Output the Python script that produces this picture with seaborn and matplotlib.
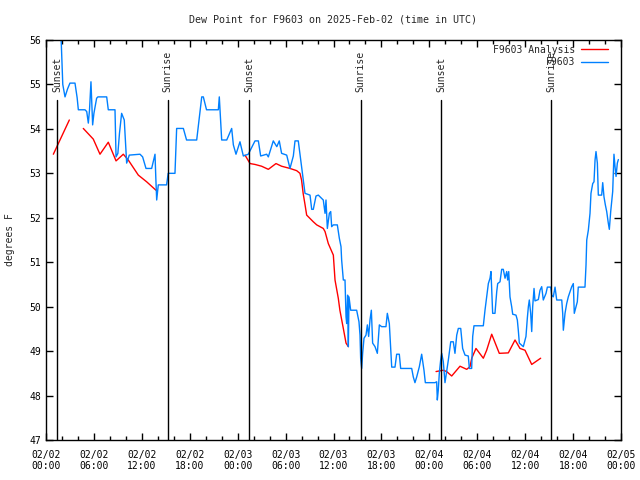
import matplotlib
matplotlib.use("Agg")
import matplotlib.pyplot as plt
import matplotlib.dates as mdates
import numpy as np
import pandas as pd
import seaborn as sns

# hours since 2025-02-02 00:00 UTC, dew point in F
obs_hours = [0.0, 1.9, 2.1, 2.38, 2.7, 3.0, 3.63, 3.9, 4.05, 4.88,
             5.1, 5.3, 5.45, 5.63, 5.84, 6.0, 6.34, 6.5, 7.6, 7.8,
             8.64, 8.77, 9.0, 9.2, 9.47, 9.8, 10.1, 10.43, 11.77, 12.1,
             12.52, 13.23, 13.65, 13.75, 13.86, 14.06, 15.1, 15.3, 16.15, 16.36,
             17.2, 17.6, 18.87, 19.5, 19.7, 20.1, 21.58, 21.7, 22.0, 22.63,
             23.25, 23.46, 23.79, 24.29, 24.71, 25.33, 26.17, 26.59, 26.88, 27.63,
             27.84, 28.46, 28.9, 29.21, 29.5, 30.14, 30.55, 30.97, 31.18, 31.59,
             32.0, 32.22, 32.43, 33.06, 33.27, 33.47, 33.81, 34.1, 34.72, 34.94,
             35.06, 35.23, 35.48, 35.65, 35.77, 35.98, 36.48, 36.73, 36.94, 37.02,
             37.23, 37.44, 37.57, 37.65, 37.77, 37.86, 37.94, 38.15, 38.9, 39.19,
             39.32, 39.4, 39.53, 39.65, 39.82, 40.07, 40.24, 40.4, 40.57, 40.74,
             40.9, 41.2, 41.49, 41.74, 42.03, 42.57, 42.74, 42.99, 43.2, 43.29,
             43.7, 43.91, 44.24, 44.41, 45.79, 45.99, 46.2, 46.42, 46.75, 47.04,
             47.33, 47.5, 48.71, 48.92, 49.0, 49.12, 49.25, 49.42, 49.55, 49.75,
             49.96, 50.17, 50.38, 50.68, 51.0, 51.21, 51.43, 51.63, 51.93, 52.17,
             52.47, 52.88, 53.01, 53.3, 53.43, 53.59, 54.76, 54.97, 55.18, 55.39,
             55.6, 55.72, 55.85, 55.93, 56.22, 56.44, 56.56, 56.85, 57.06, 57.26,
             57.48, 57.69, 57.81, 57.94, 58.1, 58.31, 58.44, 58.85, 59.02, 59.14,
             59.27, 59.77, 60.1, 60.27, 60.4, 60.52, 60.69, 60.82, 60.94, 61.11,
             61.23, 61.65, 61.86, 62.07, 62.27, 62.61, 62.78, 63.2, 63.32, 63.52,
             63.74, 63.95, 64.58, 64.7, 64.78, 64.99, 65.2, 65.4, 65.83, 66.03,
             66.15, 66.37, 66.53, 66.65, 67.49, 67.62, 67.71, 67.91, 68.12, 68.24,
             68.46, 68.62, 68.75, 68.87, 69.04, 69.16, 69.58, 69.71, 69.87, 70.04,
             70.21, 70.41, 70.54, 70.71, 70.96, 71.12, 71.25, 71.38, 71.54, 71.67]
obs_dewpoint = [56.0, 56.0, 55.0, 54.72, 54.9, 55.03, 55.03, 54.7, 54.43, 54.43,
                54.39, 54.13, 54.43, 55.06, 54.09, 54.35, 54.69, 54.72, 54.72, 54.43,
                54.43, 53.37, 53.45, 53.9, 54.35, 54.2, 53.23, 53.41, 53.43, 53.37,
                53.11, 53.11, 53.43, 52.9, 52.4, 52.74, 52.74, 53.0, 53.0, 54.01,
                54.01, 53.75, 53.75, 54.72, 54.72, 54.43, 54.43, 54.72, 53.75, 53.75,
                54.01, 53.64, 53.43, 53.71, 53.39, 53.43, 53.73, 53.73, 53.39, 53.43,
                53.37, 53.73, 53.6, 53.73, 53.45, 53.41, 53.11, 53.39, 53.73, 53.73,
                53.15, 52.85, 52.55, 52.51, 52.19, 52.19, 52.49, 52.51, 52.4, 52.1,
                52.4, 51.76, 52.1, 52.14, 51.8, 51.84, 51.84, 51.54, 51.35, 51.05,
                50.6, 50.6, 49.77, 49.62, 50.26, 49.1, 50.22, 49.92, 49.92, 49.66,
                49.36, 48.84, 48.61, 48.95, 49.29, 49.36, 49.59, 49.33, 49.7, 49.92,
                49.18, 49.1, 48.95, 49.59, 49.55, 49.55, 49.85, 49.62, 48.95, 48.64,
                48.64, 48.93, 48.93, 48.61, 48.61, 48.42, 48.29, 48.42, 48.65, 48.93,
                48.57, 48.29, 48.29, 48.31, 47.9, 48.12, 48.5, 48.8, 48.95, 48.76,
                48.29, 48.54, 48.8, 49.21, 49.21, 48.95, 49.36, 49.51, 49.51, 49.06,
                48.91, 48.89, 48.61, 48.61, 49.33, 49.57, 49.57, 49.92, 50.22, 50.52,
                50.64, 50.79, 50.22, 49.85, 49.85, 50.34, 50.52, 50.56, 50.84, 50.84,
                50.64, 50.79, 50.6, 50.79, 50.22, 50.0, 49.83, 49.81, 49.7, 49.47,
                49.18, 49.1, 49.33, 49.74, 50.0, 50.15, 49.85, 49.44, 50.0, 50.41,
                50.13, 50.16, 50.37, 50.45, 50.15, 50.3, 50.44, 50.44, 50.26, 50.22,
                50.44, 50.15, 50.15, 49.85, 49.47, 49.85, 50.07, 50.22, 50.45, 50.52,
                49.85, 50.0, 50.11, 50.44, 50.44, 50.94, 51.5, 51.72, 52.1, 52.55,
                52.77, 52.81, 53.3, 53.49, 53.23, 52.51, 52.51, 52.79, 52.47, 52.29,
                52.14, 51.88, 51.74, 52.14, 52.59, 53.43, 53.15, 52.93, 53.23, 53.31]

# analysis comes in separate pieces with gaps between them
ana1_hours = [0.92, 2.92]
ana1_dewpoint = [53.43, 54.2]
ana2_hours = [4.67, 5.92, 6.76, 7.8, 8.77, 9.68, 10.3, 11.56, 12.6, 13.77]
ana2_dewpoint = [54.01, 53.77, 53.43, 53.7, 53.28, 53.43, 53.3, 52.96, 52.81, 52.62]
ana3_hours = [24.92, 25.55, 26.17, 27.0, 27.84, 28.8, 29.5, 30.55, 31.39, 31.8,
              32.0, 32.2, 32.43, 32.64, 33.47, 33.9, 34.72, 34.94, 35.35, 35.98,
              36.19, 36.6, 36.8, 37.23, 37.57, 37.86]
ana3_dewpoint = [53.41, 53.22, 53.2, 53.16, 53.09, 53.22, 53.16, 53.11, 53.06, 53.0,
                 52.85, 52.55, 52.3, 52.06, 51.91, 51.84, 51.76, 51.69, 51.42, 51.16,
                 50.6, 50.19, 49.92, 49.51, 49.18, 49.1]
ana4_hours = [48.84, 49.75, 50.17, 50.8, 51.84, 52.68, 53.09, 53.31, 53.84, 54.76,
              55.18, 55.81, 56.76, 57.89, 58.73, 59.35, 59.98, 60.82, 61.94]
ana4_dewpoint = [48.54, 48.57, 48.54, 48.44, 48.66, 48.59, 48.65, 48.84, 49.06, 48.84,
                 49.02, 49.38, 48.95, 48.96, 49.25, 49.06, 49.02, 48.7, 48.84]

sunset_hours = [1.42, 25.46, 49.5]
sunrise_hours = [15.23, 39.4, 63.28]

start = pd.Timestamp("2025-02-02 00:00")


def to_time(hours):
    return start + pd.to_timedelta(np.array(hours), unit="h")


df_obs = pd.DataFrame({"time": to_time(obs_hours), "dewpoint": obs_dewpoint})
ana_parts = [(ana1_hours, ana1_dewpoint), (ana2_hours, ana2_dewpoint),
             (ana3_hours, ana3_dewpoint), (ana4_hours, ana4_dewpoint)]

sns.set_style("ticks")
plt.rcParams["font.family"] = ["DejaVu Sans Mono"]
fs = 7

fig = plt.figure(figsize=(6.4, 4.8), dpi=100)
ax = fig.add_axes([46 / 640, 40 / 480, 575 / 640, 400 / 480])

for i, (h, v) in enumerate(ana_parts):
    part = pd.DataFrame({"time": to_time(h), "dewpoint": v})
    sns.lineplot(data=part, x="time", y="dewpoint", color="red", lw=1, ax=ax,
                 label="F9603 Analysis" if i == 0 else None)

sns.lineplot(data=df_obs, x="time", y="dewpoint", color="#0080ff", lw=1, ax=ax,
             label="F9603")

for name, hours in [("Sunset", sunset_hours), ("Sunrise", sunrise_hours)]:
    for t in to_time(hours):
        ax.axvline(t, ymin=0, ymax=0.85, color="black", lw=1)
        ax.text(t, 0.87, name, transform=ax.get_xaxis_transform(), rotation=90,
                ha="center", va="bottom", fontsize=fs)

ax.set_xlim(start, start + pd.Timedelta(hours=72))
ax.set_ylim(47, 56)
ax.set_yticks(range(47, 57))
ax.xaxis.set_major_locator(mdates.HourLocator(byhour=[0, 6, 12, 18]))
ax.xaxis.set_minor_locator(mdates.HourLocator(byhour=range(0, 24, 2)))
ax.xaxis.set_major_formatter(mdates.DateFormatter("%m/%d\n%H:%M"))
ax.tick_params(which="both", direction="in", top=True, right=True, labelsize=fs,
               color="black", labelcolor="black")
ax.tick_params(which="major", length=5, width=1)
ax.tick_params(which="minor", length=3, width=1)
ax.tick_params(axis="x", pad=7)
for s in ax.spines.values():
    s.set_color("black")
    s.set_linewidth(1)
ax.set_xlabel("")
ax.set_ylabel("")

ax.legend(loc="upper right", bbox_to_anchor=(1 - 8 / 575, 1), frameon=False,
          markerfirst=False, fontsize=fs, handlelength=2.8, handletextpad=0.6,
          labelspacing=0.25, borderaxespad=0.2, borderpad=0.3)

fig.text(333 / 640, 1 - 20 / 480, "Dew Point for F9603 on 2025-Feb-02 (time in UTC)",
         ha="center", va="center", fontsize=7.2)
fig.text(10 / 640, 0.5, "degrees F", rotation=90, ha="center", va="center", fontsize=fs)

fig.savefig("out.png", dpi=100)
